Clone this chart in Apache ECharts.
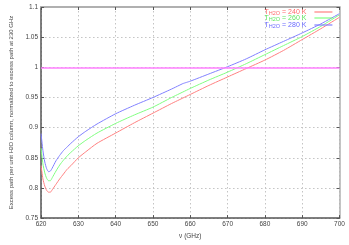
<!DOCTYPE html>
<html>
<head>
<meta charset="utf-8">
<script src="https://cdn.jsdelivr.net/npm/echarts@6/dist/echarts.min.js"></script>
<style>html,body{margin:0;padding:0;background:#fff}#c{width:349px;height:245px}</style>
</head>
<body>
<div id="c"></div>
<script>
var freqs = [620, 620.5, 621, 621.5, 622, 622.5, 623, 624, 625, 626, 627, 628, 630, 632, 635, 640, 645, 650, 655, 657, 658, 659, 660, 665, 670, 675, 680, 685, 690, 695, 700];
var t240 = [0.837, 0.815, 0.803, 0.796, 0.793, 0.793, 0.797, 0.806, 0.815, 0.823, 0.831, 0.837, 0.850, 0.860, 0.874, 0.891, 0.908, 0.924, 0.940, 0.946, 0.949, 0.952, 0.955, 0.970, 0.984, 0.998, 1.012, 1.028, 1.046, 1.064, 1.083];
var t260 = [0.866, 0.840, 0.825, 0.816, 0.812, 0.812, 0.817, 0.828, 0.838, 0.846, 0.853, 0.859, 0.870, 0.879, 0.891, 0.907, 0.921, 0.934, 0.950, 0.956, 0.959, 0.962, 0.965, 0.979, 0.992, 1.006, 1.021, 1.036, 1.051, 1.068, 1.087];
var t280 = [0.890, 0.862, 0.843, 0.832, 0.827, 0.828, 0.833, 0.845, 0.854, 0.862, 0.868, 0.874, 0.885, 0.894, 0.906, 0.923, 0.937, 0.950, 0.964, 0.970, 0.973, 0.975, 0.977, 0.989, 1.001, 1.014, 1.029, 1.043, 1.057, 1.072, 1.089];
var seriesNames = ['240', '260', '280'];
var seriesColors = ['#ff8080', '#80ff80', '#8080ff'];
var textColors = ['#ff6a6a', '#5ee85e', '#6a6aff'];
var refLevel = 1;
var xTicks = {min: 620, max: 700, step: 10};
var yTicks = {min: 0.75, max: 1.1, step: 0.05};

function pairs(vals) { return freqs.map(function (f, i) { return [f, vals[i]]; }); }
var allVals = [t240, t260, t280];

var chart = echarts.init(document.getElementById('c'), null, {renderer: 'canvas'});
var gridLine = {show: true, lineStyle: {color: '#c4c4c4', type: [1.5, 2.5], width: 1}};
var series = allVals.map(function (v, i) {
  return {
    name: seriesNames[i], type: 'line', data: pairs(v), symbol: 'none', showSymbol: false, smooth: 0.2,
    lineStyle: {color: seriesColors[i], width: 1}, itemStyle: {color: seriesColors[i]},
    color: seriesColors[i],
    xAxisIndex: 0, yAxisIndex: 0, z: 3
  };
});
series[0].markLine = {
  silent: true, symbol: 'none', label: {show: false},
  lineStyle: {color: '#ff80ff', width: 1.5, type: 'solid'},
  data: [{yAxis: refLevel}]
};
var legendTops = [8.5, 14.5, 21.5];
var legends = seriesNames.map(function (n, i) {
  return {
    right: 16, top: legendTops[i], orient: 'horizontal', align: 'right',
    itemWidth: 18, itemHeight: 6, itemGap: 0, padding: 0, selectedMode: false,
    itemStyle: {opacity: 0},
    lineStyle: {width: 1.2, color: seriesColors[i], opacity: 1},
    data: [n],
    formatter: function (name) { return '{a|T}{s|H2O}{a| = ' + name + ' K}'; },
    textStyle: {
      color: textColors[i], fontSize: 7, padding: [0, 3, 0, 0],
      rich: {
        a: {color: textColors[i], fontSize: 7, fontFamily: 'Liberation Sans'},
        s: {color: textColors[i], fontSize: 5.5, fontFamily: 'Liberation Sans', verticalAlign: 'bottom', padding: [3, 0, 0, 0]}
      }
    }
  };
});
chart.setOption({
  animation: false,
  grid: {left: 29.5, right: 9.5, top: 7, bottom: 18, show: false},
  legend: legends,
  xAxis: [{
    type: 'value', min: xTicks.min, max: xTicks.max, interval: xTicks.step,
    name: 'ν (GHz)', nameLocation: 'middle', nameGap: 12,
    nameTextStyle: {fontSize: 6.5, color: '#444', fontFamily: 'Liberation Sans'},
    axisLine: {show: true, onZero: false, lineStyle: {color: '#555', width: 1.5}},
    axisTick: {show: true, inside: true, length: 3, lineStyle: {color: '#555'}},
    axisLabel: {fontSize: 6.5, color: '#444', margin: 3, fontFamily: 'Liberation Sans'},
    splitLine: gridLine
  }, {
    type: 'value', position: 'top', min: xTicks.min, max: xTicks.max, interval: xTicks.step,
    axisLine: {show: true, lineStyle: {color: '#b0b0b0', width: 2}},
    axisTick: {show: true, inside: true, length: 3, lineStyle: {color: '#555'}},
    axisLabel: {show: false}, splitLine: {show: false}
  }],
  yAxis: [{
    type: 'value', min: yTicks.min, max: yTicks.max, interval: yTicks.step,
    name: 'Excess path per unit H{s|2}O column, normalized to excess path at 230 GHz',
    nameLocation: 'middle', nameRotate: 90, nameGap: 19,
    nameTextStyle: {fontSize: 6, color: '#444', fontFamily: 'Liberation Sans',
      rich: {s: {fontSize: 4.5, color: '#444', verticalAlign: 'bottom', padding: [2, 0, 0, 0]}}},
    axisLine: {show: true, onZero: false, lineStyle: {color: '#555', width: 1.5}},
    axisTick: {show: true, inside: true, length: 3, lineStyle: {color: '#555'}},
    axisLabel: {fontSize: 6.5, color: '#444', margin: 3, fontFamily: 'Liberation Sans',
      formatter: function (v) { return String(Math.round(v * 100) / 100); }},
    splitLine: gridLine
  }, {
    type: 'value', position: 'right', min: yTicks.min, max: yTicks.max, interval: yTicks.step,
    axisLine: {show: true, lineStyle: {color: '#b0b0b0', width: 1.5}},
    axisTick: {show: true, inside: true, length: 3, lineStyle: {color: '#555'}},
    axisLabel: {show: false}, splitLine: {show: false}
  }],
  series: series
});
</script>
</body>
</html>
